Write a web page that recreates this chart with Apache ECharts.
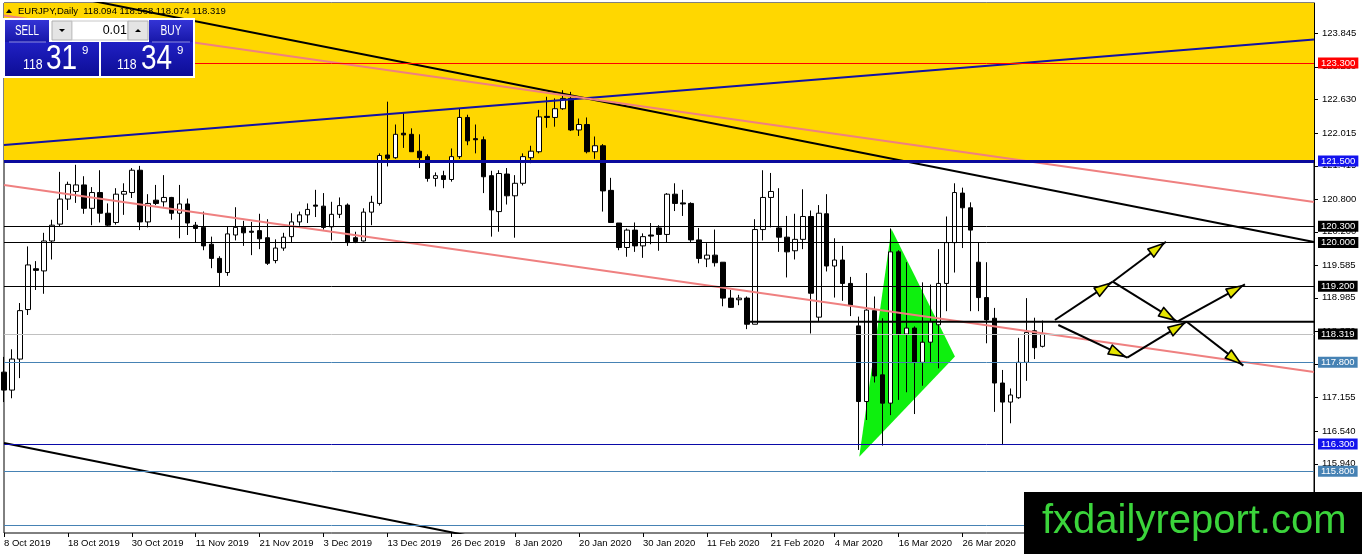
<!DOCTYPE html>
<html>
<head>
<meta charset="utf-8">
<title>EURJPY, Daily</title>
<script src="https://cdn.jsdelivr.net/npm/echarts@6/dist/echarts.min.js"></script>
<style>
  html, body { margin: 0; padding: 0; background: #fff; }
  #chart { width: 1362px; height: 554px; }
</style>
</head>
<body>
<div id="chart"></div>
<script>
// EURJPY 日线（MT4 截图风格）：K 线 + 水平位 + 趋势线 + 三角形 + 箭头路径

// ---- 数据 ---------------------------------------------------------------
const OPEN = [
  117.62, 117.29, 117.86, 118.77, 119.52, 119.48, 120.03, 120.34, 120.80, 120.94,
  121.06, 120.63, 120.92, 120.54, 120.37, 120.89, 120.92, 121.33, 120.38, 120.78,
  120.75, 120.83, 120.54, 120.71, 120.32, 120.28, 119.97, 119.71, 119.45, 120.14,
  120.28, 120.21, 120.22, 120.09, 119.67, 119.90, 120.11, 120.38, 120.51, 120.69,
  120.67, 120.29, 120.52, 120.69, 120.09, 120.03, 120.56, 120.72, 121.61, 121.56,
  122.01, 121.99, 121.68, 121.58, 121.18, 121.23, 121.16, 121.58, 122.30, 121.91,
  121.89, 121.23, 120.57, 121.26, 120.86, 121.09, 121.56, 121.67, 122.32, 122.30,
  122.46, 122.65, 122.07, 122.17, 121.67, 121.78, 120.96, 120.36, 119.91, 120.23,
  119.94, 120.14, 120.27, 120.15, 120.89, 120.73, 120.72, 120.05, 119.70, 119.77,
  119.64, 118.98, 118.95, 118.98, 118.50, 120.24, 120.83, 120.27, 120.10, 119.85,
  120.06, 120.48, 118.63, 120.53, 119.57, 119.68, 119.25, 118.47, 117.08, 118.75,
  117.57, 117.05, 119.83, 118.32, 118.43, 117.80, 118.17, 118.49, 119.25, 120.00,
  120.91, 120.64, 119.64, 118.99, 118.61, 117.42, 117.07, 117.15, 117.80, 118.38,
  118.094,
];
const CLOSE = [
  117.29, 117.86, 118.75, 119.59, 119.49, 120.03, 120.32, 120.80, 121.07, 121.06,
  120.63, 120.92, 120.54, 120.32, 120.89, 120.94, 121.33, 120.38, 120.72, 120.72,
  120.83, 120.54, 120.71, 120.36, 120.26, 119.94, 119.71, 119.45, 120.16, 120.28,
  120.18, 120.19, 120.07, 119.62, 119.90, 120.10, 120.38, 120.51, 120.61, 120.67,
  120.28, 120.52, 120.68, 120.00, 120.02, 120.56, 120.74, 121.60, 121.55, 121.99,
  121.98, 121.67, 121.56, 121.18, 121.23, 121.16, 121.58, 122.30, 121.87, 121.89,
  121.21, 120.60, 121.27, 120.86, 121.09, 121.58, 121.68, 122.31, 122.30, 122.46,
  122.65, 122.07, 122.17, 121.67, 121.78, 120.95, 120.37, 119.91, 120.23, 119.94,
  120.11, 120.12, 120.15, 120.89, 120.72, 120.71, 120.05, 119.71, 119.77, 119.63,
  118.98, 118.81, 118.98, 118.50, 120.24, 120.83, 120.94, 120.10, 119.83, 120.06,
  120.48, 119.07, 120.54, 119.57, 119.68, 119.25, 118.85, 117.08, 118.76, 117.55,
  117.05, 119.83, 118.32, 118.43, 117.80, 118.17, 118.55, 119.25, 120.00, 120.92,
  120.64, 120.23, 118.99, 118.58, 117.42, 117.07, 117.20, 117.80, 118.35, 118.07,
  118.319,
];
const LOW = [
  117.07, 117.14, 117.51, 118.67, 119.13, 119.06, 119.69, 120.29, 120.60, 120.73,
  120.53, 120.32, 120.37, 120.29, 120.33, 120.51, 120.82, 120.23, 120.28, 120.69,
  120.66, 120.42, 120.08, 120.14, 120.00, 119.86, 119.53, 119.19, 119.39, 120.04,
  119.94, 119.77, 119.88, 119.59, 119.62, 119.85, 120.00, 120.31, 120.36, 120.47,
  120.24, 120.04, 120.45, 119.94, 119.99, 120.02, 120.32, 120.68, 121.40, 121.54,
  121.74, 121.67, 121.37, 121.12, 121.03, 121.00, 121.12, 121.54, 121.79, 121.64,
  120.91, 120.11, 120.20, 120.70, 120.09, 121.05, 121.46, 121.64, 122.11, 122.13,
  122.44, 122.05, 121.96, 121.64, 121.54, 120.57, 120.36, 119.86, 119.74, 119.83,
  119.72, 119.97, 119.85, 120.01, 120.58, 120.49, 120.00, 119.62, 119.55, 119.56,
  118.83, 118.80, 118.85, 118.41, 118.50, 120.04, 120.28, 119.83, 119.36, 119.69,
  119.88, 118.33, 118.55, 119.47, 118.99, 118.93, 118.65, 116.19, 116.74, 117.43,
  116.27, 116.83, 117.11, 117.25, 116.85, 117.37, 117.80, 117.69, 118.74, 119.45,
  119.90, 118.74, 118.74, 118.15, 116.89, 116.28, 116.68, 117.13, 117.46, 117.86,
  118.074,
];
const HIGH = [
  117.90, 118.04, 118.89, 119.93, 119.66, 120.18, 120.42, 121.30, 121.12, 121.43,
  121.22, 121.02, 121.33, 120.72, 121.00, 121.09, 121.37, 121.41, 120.89, 121.06,
  121.24, 120.84, 121.06, 120.81, 120.38, 120.57, 120.11, 119.75, 120.29, 120.65,
  120.40, 120.38, 120.53, 120.43, 120.06, 120.18, 120.54, 120.57, 120.72, 120.97,
  120.91, 120.75, 120.83, 120.72, 120.20, 120.63, 120.86, 121.64, 122.59, 122.17,
  122.38, 122.10, 121.99, 121.62, 121.29, 121.32, 121.73, 122.46, 122.35, 122.17,
  121.95, 121.32, 121.33, 121.37, 121.24, 121.64, 121.78, 122.44, 122.68, 122.65,
  122.80, 122.77, 122.28, 122.30, 121.95, 121.81, 121.19, 120.36, 120.26, 120.37,
  120.17, 120.36, 120.32, 120.91, 121.09, 120.97, 120.74, 120.27, 119.99, 120.24,
  119.64, 119.13, 119.04, 119.01, 120.43, 121.33, 121.28, 121.00, 120.49, 120.53,
  120.98, 120.59, 120.69, 120.89, 120.08, 119.94, 119.37, 118.64, 119.44, 119.01,
  118.61, 120.26, 119.86, 119.64, 118.46, 119.27, 119.23, 119.88, 120.48, 121.09,
  121.01, 120.74, 120.01, 119.64, 118.80, 117.66, 117.32, 118.25, 118.98, 118.62,
  118.568,
];

// 交易日：从 8 Oct 2019 起，跳过周末和这两天
const START_DATE = '2019-10-08';
const HOLIDAYS = ['2019-12-25', '2020-01-01'];
const MONTHS = ['Jan', 'Feb', 'Mar', 'Apr', 'May', 'Jun', 'Jul', 'Aug', 'Sep', 'Oct', 'Nov', 'Dec'];
const SLOTS = 165;          // 含右侧空白区
const LABEL_EVERY = 8;
const LAST_LABEL = 120;

// 价格轴
const Y_MIN = 114.664;
const Y_MAX = 124.403;
const PRICE_TICKS = [123.845, 123.230, 122.630, 122.015, 121.415, 120.800, 120.200,
  119.585, 118.985, 118.370, 117.770, 117.155, 116.540, 115.940, 115.325];

// 水平价位
const LEVEL_PRICES = [123.300, 121.500, 120.300, 120.000, 119.200, 118.319, 117.800, 116.300, 115.800, 114.800];

// 趋势线端点 [bar 序号, 价格]
const BLUE_TREND = [[0, 121.794], [164, 123.733]];
const BLACK_TREND_TOP = [[0, 124.762], [164, 120.012]];
const BLACK_TREND_LOW = [[0, 116.318], [164, 111.513]];
const PINK_TREND_TOP = [[0, 124.172], [164, 120.747]];
const PINK_TREND_LOW = [[0, 121.059], [164, 117.623]];
const PIVOT_LINE = [[93.4, 118.545], [164, 118.545]];
const YELLOW_ZONE = [[0, 121.5, 164, Y_MAX]];
const TRIANGLE = [[107.07, 116.066], [111.1, 120.25], [119.05, 117.908]];

// 箭头路径 [x1, y1, x2, y2]
const ARROWS = [
  [131.57, 118.578, 138.80, 119.282],
  [138.80, 119.282, 145.47, 120.017],
  [138.80, 119.282, 146.88, 118.547],
  [146.88, 118.547, 155.36, 119.234],
  [148.06, 118.547, 155.15, 117.739],
  [131.99, 118.486, 140.62, 117.886],
  [140.62, 117.886, 148.06, 118.547],
];

// ---- 样式 ---------------------------------------------------------------
const FONT = '"Liberation Sans", Arial, sans-serif';
const BLUE_LABEL = '#1212ee';
const STEEL = '#4682B4';
const LEVEL_STYLE = [
  { line: '#ff0000', width: 1, bg: '#ff0000' },
  { line: '#0b0b9c', width: 3, bg: BLUE_LABEL },
  { line: '#000', width: 1, bg: '#000' },
  { line: '#000', width: 1, bg: '#000' },
  { line: '#000', width: 1, bg: '#000' },
  { line: '#c0c0c0', width: 1, bg: '#000' },
  { line: STEEL, width: 1, bg: STEEL },
  { line: '#0a0aa8', width: 1, bg: BLUE_LABEL },
  { line: STEEL, width: 1, bg: STEEL },
  { line: STEEL, width: 1, bg: STEEL },
];

function fmtDate(d) {
  return `${d.getUTCDate()} ${MONTHS[d.getUTCMonth()]} ${d.getUTCFullYear()}`;
}

function tradingDays(start, n) {
  const out = [];
  const d = new Date(start + 'T00:00:00Z');
  while (out.length < n) {
    const wd = d.getUTCDay();
    const iso = d.toISOString().slice(0, 10);
    if (wd !== 0 && wd !== 6 && !HOLIDAYS.includes(iso)) out.push(fmtDate(d));
    d.setUTCDate(d.getUTCDate() + 1);
  }
  return out;
}

const dates = tradingDays(START_DATE, SLOTS);
const candles = OPEN.map((o, i) => [o, CLOSE[i], LOW[i], HIGH[i]]);
const showLabel = (i) => i % LABEL_EVERY === 0 && i <= LAST_LABEL;

function trend(data, color, width) {
  return {
    type: 'line', xAxisIndex: 1, yAxisIndex: 0, data,
    symbol: 'none', silent: true, clip: true, z: 4,
    lineStyle: { color, width },
  };
}

function renderZone(params, api) {
  const a = api.coord([api.value(0), api.value(1)]);
  const b = api.coord([api.value(2), api.value(3)]);
  return {
    type: 'rect',
    shape: { x: a[0], y: b[1], width: b[0] - a[0], height: a[1] - b[1] },
    style: { fill: '#ffd700' },
  };
}

function renderTriangle(params, api) {
  return {
    type: 'polygon',
    shape: { points: TRIANGLE.map((p) => api.coord(p)) },
    style: { fill: '#0ef00e' },
  };
}

// 价格轴右侧的小刻度
function renderTick(params, api) {
  const p = api.coord([api.value(0), api.value(1)]);
  const y = Math.round(p[1]) + 0.5;
  return { type: 'line', shape: { x1: p[0], y1: y, x2: p[0] + 4, y2: y }, style: { stroke: '#000', lineWidth: 1 } };
}

function renderArrow(params, api) {
  const a = api.coord([api.value(0), api.value(1)]);
  const b = api.coord([api.value(2), api.value(3)]);
  const dx = b[0] - a[0], dy = b[1] - a[1];
  const len = Math.hypot(dx, dy);
  const ux = dx / len, uy = dy / len;
  const tip = [b[0] - ux * 3, b[1] - uy * 3];
  const base = [tip[0] - ux * 16, tip[1] - uy * 16];
  const nx = -uy * 5, ny = ux * 5;
  return {
    type: 'group',
    children: [
      { type: 'line', shape: { x1: a[0], y1: a[1], x2: b[0], y2: b[1] }, style: { stroke: '#000', lineWidth: 2 } },
      {
        type: 'polygon',
        shape: { points: [tip, [base[0] + nx, base[1] + ny], [base[0] - nx, base[1] - ny]] },
        style: { fill: '#e4e400', stroke: '#000', lineWidth: 1.6, lineJoin: 'round' },
      },
    ],
  };
}

// ---- 左上角一键交易面板 + 水印 ------------------------------------------
function blueGrad(top, bottom) {
  return new echarts.graphic.LinearGradient(0, 0, 0, 1, [
    { offset: 0, color: top }, { offset: 1, color: bottom },
  ]);
}

// y 为文字垂直中心
function txt(x, y, text, size, opts) {
  const o = opts || {};
  return {
    type: 'text', x, y, scaleX: o.sx || 1, z: 101,
    style: {
      text, fill: o.fill || '#fff', font: `${size}px ${FONT}`,
      align: o.align || 'left', verticalAlign: 'middle',
    },
  };
}

const panel = [
  { type: 'rect', shape: { x: 3, y: 18, width: 192, height: 60 }, style: { fill: '#fff' }, z: 100 },
  { type: 'rect', shape: { x: 5, y: 20, width: 44, height: 22 }, style: { fill: blueGrad('#3434d6', '#1717a8') }, z: 100 },
  { type: 'rect', shape: { x: 149, y: 20, width: 44, height: 22 }, style: { fill: blueGrad('#3434d6', '#1717a8') }, z: 100 },
  { type: 'rect', shape: { x: 5, y: 42, width: 94, height: 34 }, style: { fill: blueGrad('#2020c4', '#0d0d96') }, z: 100 },
  { type: 'rect', shape: { x: 101, y: 42, width: 92, height: 34 }, style: { fill: blueGrad('#2020c4', '#0d0d96') }, z: 100 },
  { type: 'line', shape: { x1: 9, y1: 42, x2: 46, y2: 42 }, style: { stroke: '#8c8ce0', lineWidth: 1 }, z: 101 },
  { type: 'line', shape: { x1: 152, y1: 42, x2: 190, y2: 42 }, style: { stroke: '#8c8ce0', lineWidth: 1 }, z: 101 },
  { type: 'rect', shape: { x: 52, y: 21, width: 20, height: 19 }, style: { fill: '#e4e4e4', stroke: '#b0b0b0' }, z: 100 },
  { type: 'rect', shape: { x: 72, y: 21, width: 56, height: 19 }, style: { fill: '#fff', stroke: '#c8c8c8' }, z: 100 },
  { type: 'rect', shape: { x: 128, y: 21, width: 20, height: 19 }, style: { fill: '#e4e4e4', stroke: '#b0b0b0' }, z: 100 },
  { type: 'polygon', shape: { points: [[59, 29], [65, 29], [62, 32]] }, style: { fill: '#000' }, z: 101 },
  { type: 'polygon', shape: { points: [[135, 32], [141, 32], [138, 29]] }, style: { fill: '#000' }, z: 101 },
  { type: 'polygon', shape: { points: [[6, 13], [12, 13], [9, 9]] }, style: { fill: '#000' }, z: 101 },
  txt(18, 11, 'EURJPY,Daily  118.094 118.568 118.074 118.319', 9.5, { fill: '#000' }),
  txt(27, 31, 'SELL', 15, { align: 'center', sx: 0.66 }),
  txt(171, 31, 'BUY', 15, { align: 'center', sx: 0.68 }),
  txt(127, 31, '0.01', 12.5, { fill: '#000', align: 'right' }),
  txt(23, 65, '118', 15, { sx: 0.82 }),
  txt(46, 59, '31', 35, { sx: 0.8 }),
  txt(82, 51, '9', 11.5),
  txt(117, 65, '118', 15, { sx: 0.82 }),
  txt(141, 59, '34', 35, { sx: 0.8 }),
  txt(177, 51, '9', 11.5),
];

const watermark = [
  { type: 'rect', shape: { x: 1024, y: 492, width: 338, height: 62 }, style: { fill: '#000' }, z: 100 },
  txt(1042, 522, 'fxdailyreport.com', 40, { fill: '#3bd43b' }),
];

// ---- 图表 ---------------------------------------------------------------
const chart = echarts.init(document.getElementById('chart'), null, { renderer: 'canvas' });

chart.setOption({
  animation: false,
  backgroundColor: '#fff',
  textStyle: { fontFamily: FONT },
  grid: { left: 4, right: 48, top: 3, bottom: 21, show: true, borderColor: '#000', borderWidth: 1, backgroundColor: '#fff' },
  xAxis: [
    {
      type: 'category', data: dates, boundaryGap: false,
      axisLine: { show: false, onZero: false },
      axisTick: { show: true, interval: showLabel, length: 4, lineStyle: { color: '#000' } },
      axisLabel: { interval: showLabel, align: 'left', margin: 5, color: '#000', fontSize: 9.5, fontFamily: FONT },
      splitLine: { show: false },
    },
    {
      type: 'value', min: 0, max: SLOTS - 1, show: false,
      axisLine: { show: false, onZero: false }, axisTick: { show: false }, axisLabel: { show: false }, splitLine: { show: false },
    },
  ],
  yAxis: {
    type: 'value', position: 'right', min: Y_MIN, max: Y_MAX,
    axisLine: { show: true, onZero: false, lineStyle: { color: '#000' } },
    axisTick: { show: false },
    minorTick: { show: false },
    axisLabel: {
      customValues: PRICE_TICKS, margin: 8, color: '#000', fontSize: 9.5, fontFamily: FONT,
      formatter: (v) => Number(v).toFixed(3),
    },
    splitLine: { show: false },
  },
  graphic: { elements: panel.concat(watermark) },
  series: [
    {
      type: 'custom', xAxisIndex: 1, yAxisIndex: 0, renderItem: renderZone,
      data: YELLOW_ZONE, silent: true, z: 0,
    },
    {
      type: 'custom', xAxisIndex: 1, yAxisIndex: 0, renderItem: renderTriangle,
      data: [TRIANGLE[0]], silent: true, z: 1,
    },
    {
      type: 'candlestick', xAxisIndex: 0, yAxisIndex: 0, data: candles,
      barWidth: 5, z: 2, clip: true,
      itemStyle: { color: '#fff', color0: '#000', borderColor: '#000', borderColor0: '#000', borderWidth: 1 },
      markLine: {
        silent: true, symbol: ['none', 'none'], animation: false,
        data: LEVEL_PRICES.map((p, i) => ({
          yAxis: p,
          lineStyle: { color: LEVEL_STYLE[i].line, width: LEVEL_STYLE[i].width, type: 'solid' },
          label: {
            show: true, position: 'end', distance: 4,
            formatter: () => p.toFixed(3),
            color: '#fff', backgroundColor: LEVEL_STYLE[i].bg,
            padding: [1, 3, 0, 3], fontSize: 9.5, fontFamily: FONT,
          },
        })),
      },
    },
    {
      type: 'custom', xAxisIndex: 1, yAxisIndex: 0, renderItem: renderTick,
      data: PRICE_TICKS.map((v) => [SLOTS - 1, v]), silent: true, z: 1,
    },
    trend(BLUE_TREND, '#1212a4', 2),
    trend(BLACK_TREND_TOP, '#000', 2),
    trend(BLACK_TREND_LOW, '#000', 2),
    trend(PINK_TREND_TOP, '#ef8080', 2),
    trend(PINK_TREND_LOW, '#ef8080', 2),
    trend(PIVOT_LINE, '#000', 2),
    {
      type: 'custom', xAxisIndex: 1, yAxisIndex: 0, renderItem: renderArrow,
      data: ARROWS, encode: { x: [0, 2], y: [1, 3] }, silent: true, z: 5,
    },
  ],
});
</script>
</body>
</html>
